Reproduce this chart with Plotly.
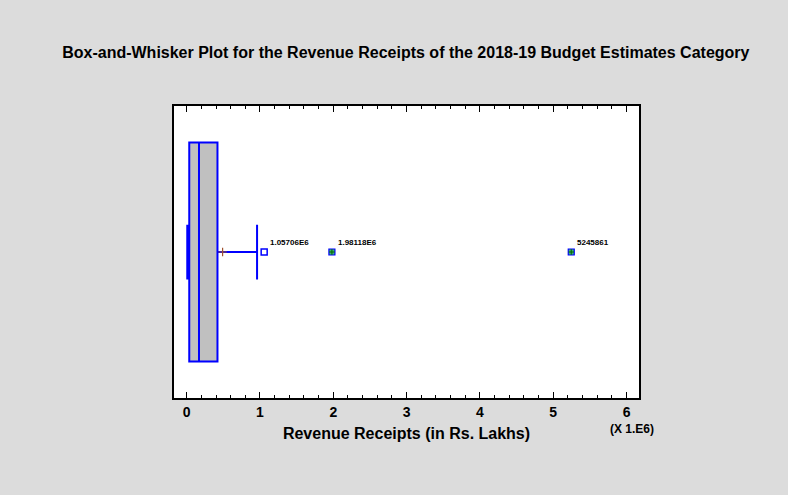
import plotly.graph_objects as go

# Summary statistics of revenue receipts (Rs. Lakhs)
stat_min = [8000]
stat_q1 = [35000]
stat_median = [168000]
stat_q3 = [420000]
stat_upper = [960000]
stat_mean = [490000]

# Points beyond the whiskers
outside_vals = [1057060]
far_vals = [1981180, 5245861]
point_labels = ["1.05706E6", "1.98118E6", "5245861"]

tick_vals = [0, 1e6, 2e6, 3e6, 4e6, 5e6, 6e6]
tick_text = ["0", "1", "2", "3", "4", "5", "6"]

FONT = "Liberation Sans, Arial, sans-serif"
BLUE = "#0000FF"

fig = go.Figure()

fig.add_trace(go.Box(
    y=[0], orientation="h",
    q1=stat_q1, median=stat_median, q3=stat_q3,
    lowerfence=stat_min, upperfence=stat_upper,
    width=0.75, whiskerwidth=0.25,
    fillcolor="#C0C0C0", line=dict(color=BLUE, width=2),
    boxpoints=False, hoverinfo="skip", showlegend=False,
))

fig.add_trace(go.Scatter(
    x=stat_mean, y=[0], mode="markers",
    marker=dict(symbol="cross-thin", size=6, line=dict(color="#A0522D", width=1.2)),
    hoverinfo="skip", showlegend=False,
))

fig.add_trace(go.Scatter(
    x=outside_vals, y=[0] * len(outside_vals), mode="markers",
    marker=dict(symbol="square-open", size=6, color=BLUE, line=dict(width=1.5)),
    hoverinfo="skip", showlegend=False,
))

# Far-out points: blue-edged square with a green cross inside
fig.add_trace(go.Scatter(
    x=far_vals, y=[0] * len(far_vals), mode="markers",
    marker=dict(symbol="square", size=6, color="#3CB371", line=dict(color=BLUE, width=1.2)),
    hoverinfo="skip", showlegend=False,
))
fig.add_trace(go.Scatter(
    x=far_vals, y=[0] * len(far_vals), mode="markers",
    marker=dict(symbol="cross-thin", size=4, line=dict(color="#006400", width=1)),
    hoverinfo="skip", showlegend=False,
))

for v, lab in zip(outside_vals + far_vals, point_labels):
    fig.add_annotation(
        x=v, y=0, text=lab, showarrow=False,
        xanchor="left", yanchor="middle", xshift=4, yshift=10,
        font=dict(family=FONT, size=8, color="#000000", weight="bold"),
    )

fig.add_annotation(
    x=6e6, xref="x", y=0, yref="paper", text="(X 1.E6)", showarrow=False,
    xanchor="center", yanchor="top", xshift=5, yshift=-22,
    font=dict(family=FONT, size=12, color="#000000", weight="bold"),
)

fig.update_layout(
    width=788, height=495,
    paper_bgcolor="#DCDCDC", plot_bgcolor="#FFFFFF",
    margin=dict(l=174, r=149, t=106, b=97),
    title=dict(
        text="Box-and-Whisker Plot for the Revenue Receipts of the 2018-19 Budget Estimates Category",
        x=0.515, xanchor="center", y=1 - 52 / 495, yanchor="middle",
        font=dict(family=FONT, size=16, color="#000000", weight="bold"),
    ),
    xaxis=dict(
        range=[-0.173e6, 6.17e6], tickvals=tick_vals, ticktext=tick_text,
        ticks="inside", ticklen=6, tickwidth=1, tickcolor="#000000",
        minor=dict(ticks="inside", ticklen=3, dtick=2e5, tickcolor="#000000"),
        showline=True, linecolor="#000000", linewidth=2, mirror="allticks",
        showgrid=False, zeroline=False,
        tickfont=dict(family=FONT, size=14, color="#000000", weight="bold"),
        title=dict(text="Revenue Receipts (in Rs. Lakhs)", standoff=9,
                   font=dict(family=FONT, size=16, color="#000000", weight="bold")),
    ),
    yaxis=dict(
        range=[-0.5, 0.5], showticklabels=False, ticks="",
        showline=True, linecolor="#000000", linewidth=2, mirror=True,
        showgrid=False, zeroline=False,
    ),
)

fig.write_html("out.html")
